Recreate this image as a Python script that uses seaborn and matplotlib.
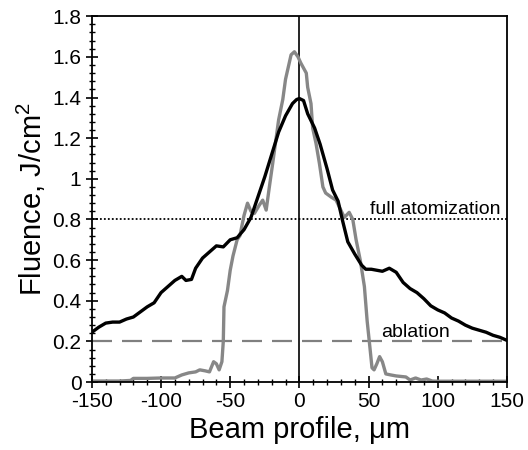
import matplotlib
matplotlib.use("Agg")
import matplotlib.pyplot as plt
import pandas as pd
import seaborn as sns
from matplotlib.ticker import MultipleLocator, FixedLocator

# black profile
black_x = [-150, -145, -140, -135, -130, -125, -120, -115, -110, -105, -100,
           -95, -90, -85, -82, -78, -75, -70, -65, -60, -55, -50, -45, -40,
           -35, -30, -25, -20, -15, -10, -5, -2, 0, 3, 6, 11, 15, 20,
           24, 28, 31, 35, 40, 45, 48, 52, 56, 60, 65, 70, 75, 80, 85, 90,
           95, 100, 105, 110, 115, 120, 125, 130, 135, 140, 145, 150]
black_y = [0.245, 0.27, 0.29, 0.295, 0.295, 0.31, 0.32, 0.345, 0.37, 0.39, 0.44,
           0.47, 0.50, 0.52, 0.50, 0.505, 0.56, 0.61, 0.64, 0.67, 0.665, 0.70, 0.71, 0.75,
           0.81, 0.91, 1.01, 1.12, 1.23, 1.31, 1.37, 1.39, 1.395, 1.385, 1.32, 1.25, 1.17, 1.05,
           0.945, 0.89, 0.80, 0.69, 0.63, 0.575, 0.555, 0.555, 0.55, 0.545, 0.56, 0.54, 0.49, 0.46, 0.44, 0.41,
           0.375, 0.355, 0.34, 0.315, 0.30, 0.28, 0.265, 0.255, 0.245, 0.23, 0.22, 0.205]

# gray profile
gray_x = [-150, -140, -130, -122, -120, -110, -100, -90, -85, -80, -75, -72,
          -68, -65, -62, -60, -58, -56, -55, -54.5, -52, -50, -48, -45, -43,
          -40, -37.5, -35, -32.5, -29, -26.5, -24, -21.7, -19.3, -17, -15, -12, -10,
          -8, -6, -3.6, -1, 1, 5, 6, 8.4, 9.6, 12, 14.5, 17, 19, 23, 26.5, 29, 32.5,
          36, 38.6, 41, 44, 47, 49, 51, 52.5, 54, 56, 58, 60, 62.5, 66,
          70, 77, 80, 84, 88, 92, 96, 100, 150]
gray_y = [0.005, 0.005, 0.005, 0.008, 0.018, 0.018, 0.02, 0.02, 0.035, 0.045, 0.05, 0.06,
          0.055, 0.05, 0.10, 0.09, 0.06, 0.10, 0.20, 0.37, 0.45, 0.55, 0.62, 0.70, 0.72,
          0.82, 0.88, 0.84, 0.83, 0.87, 0.895, 0.846, 0.96, 1.075, 1.19, 1.29, 1.39, 1.49,
          1.55, 1.61, 1.625, 1.60, 1.57, 1.52, 1.45, 1.37, 1.25, 1.175, 1.075, 0.96, 0.93, 0.91, 0.895, 0.86, 0.81,
          0.835, 0.80, 0.70, 0.60, 0.47, 0.30, 0.17, 0.07, 0.06, 0.09, 0.125, 0.10, 0.04, 0.035,
          0.03, 0.025, 0.01, 0.02, 0.01, 0.015, 0.005, 0.004, 0.004]

full_atomization = 0.8
ablation = 0.2

x_ticks = [-150, -100, -50, 0, 50, 100, 150]
y_ticks = [0, 0.2, 0.4, 0.6, 0.8, 1, 1.2, 1.4, 1.6, 1.8]
y_labels = ["0", "0.2", "0.4", "0.6", "0.8", "1", "1.2", "1.4", "1.6", "1.8"]

sns.set_theme(style="ticks")
plt.rcParams["font.family"] = ["Liberation Sans", "DejaVu Sans"]
plt.rcParams["mathtext.fontset"] = "custom"
plt.rcParams["mathtext.rm"] = "Liberation Sans"
plt.rcParams["text.color"] = "black"
plt.rcParams["axes.labelcolor"] = "black"

fig = plt.figure(figsize=(5.28, 4.5), dpi=100)
ax = fig.add_axes([0.174, 0.151, 0.786, 0.813])

df_black = pd.DataFrame({"x": black_x, "y": black_y})
df_gray = pd.DataFrame({"x": gray_x, "y": gray_y})

ax.axhline(full_atomization, color="black", lw=1.3, ls=(0, (1, 1.2)), zorder=1)
ax.axhline(ablation, color="#808080", lw=1.6, ls=(0, (9, 4.5)), zorder=1)
ax.axvline(0, color="black", lw=1.2, zorder=1)

sns.lineplot(data=df_black, x="x", y="y", ax=ax, color="black", lw=2.4,
             estimator=None, sort=False, zorder=3)
sns.lineplot(data=df_gray, x="x", y="y", ax=ax, color="#878787", lw=2.4,
             estimator=None, sort=False, zorder=2)

ax.text(98, 0.826, "full atomization", ha="center", va="baseline", fontsize=14, color="black")
ax.text(84, 0.222, "ablation", ha="center", va="baseline", fontsize=14, color="black")

ax.set_xlim(-150, 150)
ax.set_ylim(0, 1.8)
ax.xaxis.set_major_locator(FixedLocator(x_ticks))
ax.set_xticklabels([str(t) for t in x_ticks])
ax.yaxis.set_major_locator(FixedLocator(y_ticks))
ax.set_yticklabels(y_labels)
ax.xaxis.set_minor_locator(MultipleLocator(10))
ax.yaxis.set_minor_locator(MultipleLocator(0.04))
ax.tick_params(which="major", direction="inout", length=9, width=1.2,
               labelsize=15, colors="black", pad=3)
ax.tick_params(which="minor", direction="inout", length=5, width=1.0, colors="black")

for s in ax.spines.values():
    s.set_color("black")
    s.set_linewidth(1.3)

ax.set_xlabel("Beam profile, μm", fontsize=21, labelpad=3, color="black")
ax.set_ylabel("Fluence, J/cm$^2$", fontsize=21, labelpad=3, color="black")

fig.savefig("out.png", dpi=100)
